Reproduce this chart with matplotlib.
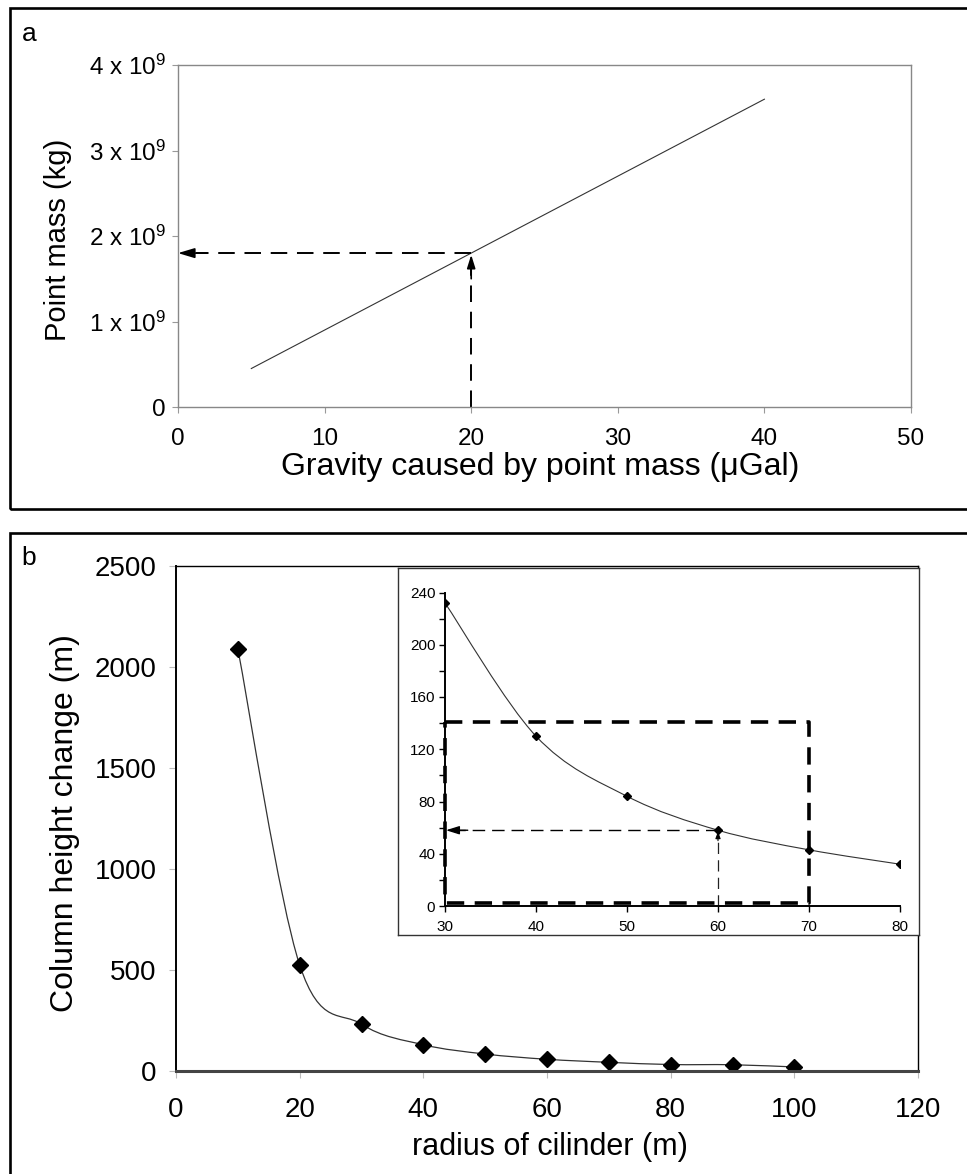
import numpy as np
import matplotlib
matplotlib.use("Agg")
import matplotlib.pyplot as plt
from matplotlib.path import Path
from matplotlib.patches import PathPatch, Rectangle

plt.rcParams['font.family'] = ['Liberation Sans', 'DejaVu Sans']
plt.rcParams['mathtext.fontset'] = 'custom'
plt.rcParams['mathtext.rm'] = 'Liberation Sans'
plt.rcParams['mathtext.it'] = 'Liberation Sans:italic'

# ---------------- data ----------------
# panel a
gravity = [5, 10, 15, 20, 25, 30, 35, 40]
point_mass = [0.45e9, 0.90e9, 1.35e9, 1.80e9, 2.25e9, 2.70e9, 3.15e9, 3.60e9]
a_xticks = [0, 10, 20, 30, 40, 50]
a_yticks = [0, 1e9, 2e9, 3e9, 4e9]
a_yticklabels = ['0', '1 x 10$^{9}$', '2 x 10$^{9}$', '3 x 10$^{9}$', '4 x 10$^{9}$']
a_read_g = 20
a_read_m = 1.8e9

# panel b
radius = [10, 20, 30, 40, 50, 60, 70, 80, 90, 100]
height_change = [2090, 525, 232, 130, 84, 58, 43, 32, 31, 20]
b_xticks = [0, 20, 40, 60, 80, 100, 120]
b_yticks = [0, 500, 1000, 1500, 2000, 2500]

# inset
inset_radius = [30, 40, 50, 60, 70, 80]
inset_height = [232, 130, 84, 58, 43, 32]
inset_xticks = [30, 40, 50, 60, 70, 80]
inset_yticks = [0, 40, 80, 120, 160, 200, 240]
inset_box_x = [30, 70]
inset_box_y = [2.5, 141]
inset_read_r = 60
inset_read_h = 58


def smooth_path(xs, ys):
    pts = np.column_stack([xs, ys]).astype(float)
    n = len(pts)
    verts = [pts[0]]
    codes = [Path.MOVETO]
    for i in range(n - 1):
        p0 = pts[i - 1] if i > 0 else pts[i]
        p1 = pts[i]
        p2 = pts[i + 1]
        p3 = pts[i + 2] if i + 2 < n else pts[i + 1]
        c1 = p1 + (p2 - p0) / 6.0
        c2 = p2 - (p3 - p1) / 6.0
        verts += [c1, c2, p2]
        codes += [Path.CURVE4] * 3
    return Path(verts, codes)


W, H = 967, 1174
fig = plt.figure(figsize=(W / 100, H / 100), dpi=100)

def fx(px):
    return px / W

def fy(py):
    return 1 - py / H

# outer panel boxes
fig.patches.append(Rectangle((fx(10), fy(509)), 1.2, fy(8) - fy(509), transform=fig.transFigure,
                             fill=False, lw=1.9, ec='black', clip_on=False))
fig.patches.append(Rectangle((fx(10), -0.2), 1.2, fy(533) + 0.2, transform=fig.transFigure,
                             fill=False, lw=1.9, ec='black', clip_on=False))
fig.text(fx(29), fy(34), 'a', fontsize=19, ha='center', va='center')
fig.text(fx(29), fy(558), 'b', fontsize=19, ha='center', va='center')

# ---------------- panel a ----------------
axa = fig.add_axes([fx(178), fy(407), fx(911) - fx(178), fy(65) - fy(407)])
axa.plot(gravity, point_mass, color='#333333', lw=0.8)
axa.set_xlim(0, 50)
axa.set_ylim(0, 4e9)
axa.set_xticks(a_xticks)
axa.set_yticks(a_yticks)
axa.set_yticklabels(a_yticklabels)
for s in axa.spines.values():
    s.set_color('#888888')
    s.set_linewidth(1.0)
axa.tick_params(axis='both', colors='#999999', labelcolor='black', labelsize=17.5, length=4, width=0.8)
axa.tick_params(axis='y', pad=5)
axa.tick_params(axis='x', pad=11)
axa.set_xlabel('Gravity caused by point mass (\u03bcGal)', fontsize=23, va='center')
axa.set_ylabel('Point mass (kg)', fontsize=21, va='center')
axa.xaxis.set_label_coords(0.494, -0.175)
axa.yaxis.set_label_coords(-0.164, 0.49)
# reading lines
axa.plot([a_read_g, 1.2], [a_read_m, a_read_m], color='black', lw=1.4, dashes=(8.5, 5))
axa.plot([a_read_g, a_read_g], [0, a_read_m - 0.1e9], color='black', lw=1.4, dashes=(8.5, 5))
axa.annotate('', xy=(0, a_read_m), xytext=(2.0, a_read_m),
             arrowprops=dict(arrowstyle='-|>,head_length=1.0,head_width=0.3', color='black',
                             lw=1.2, shrinkA=0, shrinkB=0), annotation_clip=False)
axa.annotate('', xy=(a_read_g, a_read_m - 0.02e9), xytext=(a_read_g, a_read_m - 0.3e9),
             arrowprops=dict(arrowstyle='-|>,head_length=0.8,head_width=0.25', color='black',
                             lw=1.2, shrinkA=0, shrinkB=0))

# ---------------- panel b ----------------
axb = fig.add_axes([fx(176), fy(1071), fx(918) - fx(176), fy(566) - fy(1071)])
axb.add_patch(PathPatch(smooth_path(radius, height_change), fill=False, ec='#333333', lw=0.9))
axb.plot(radius, height_change, ls='none', marker='D', ms=8, color='black')
axb.set_xlim(0, 120)
axb.set_ylim(0, 2500)
axb.set_xticks(b_xticks)
axb.set_yticks(b_yticks)
axb.spines['left'].set_linewidth(1.4)
axb.spines['left'].set_color('black')
axb.spines['bottom'].set_linewidth(2.2)
axb.spines['bottom'].set_color('#444444')
axb.spines['top'].set_linewidth(1.0)
axb.spines['right'].set_linewidth(1.0)
axb.tick_params(axis='both', colors='#bbbbbb', labelcolor='black', labelsize=20, length=5, width=0.8)
axb.tick_params(axis='y', pad=9)
axb.tick_params(axis='x', pad=14)
axb.set_xlabel('radius of cilinder (m)', fontsize=22, va='center')
axb.set_ylabel('Column height change (m)', fontsize=23, va='center')
axb.xaxis.set_label_coords(0.504, -0.150)
axb.yaxis.set_label_coords(-0.150, 0.49)

# inset frame
frame = fig.add_axes([fx(398), fy(935), fx(919) - fx(398), fy(568) - fy(935)])
frame.set_xticks([])
frame.set_yticks([])
for s in frame.spines.values():
    s.set_color('#333333')
    s.set_linewidth(1.0)

# inset
axi = fig.add_axes([fx(445), fy(906), fx(900) - fx(445), fy(592.5) - fy(906)])
axi.patch.set_alpha(0)
axi.add_patch(PathPatch(smooth_path(inset_radius, inset_height), fill=False, ec='#333333', lw=0.8))
axi.plot(inset_radius, inset_height, ls='none', marker='D', ms=4, color='black')
axi.set_xlim(30, 80)
axi.set_ylim(0, 240)
axi.set_xticks(inset_xticks)
axi.set_yticks(inset_yticks)
axi.set_yticks([20, 60, 100, 140, 180, 220], minor=True)
axi.spines['top'].set_visible(False)
axi.spines['right'].set_visible(False)
axi.spines['left'].set_linewidth(1.4)
axi.spines['bottom'].set_linewidth(1.4)
axi.tick_params(axis='both', which='both', labelsize=11, length=4, width=1.0, direction='out', pad=3)
axi.tick_params(axis='x', pad=6)
# dashed selection box
bx = [inset_box_x[0], inset_box_x[1], inset_box_x[1], inset_box_x[0], inset_box_x[0]]
by = [inset_box_y[1], inset_box_y[1], inset_box_y[0], inset_box_y[0], inset_box_y[1]]
axi.plot(bx, by, color='black', lw=2.6, dashes=(4.8, 2.9), clip_on=False)
# reading lines
axi.plot([inset_read_r, 31.5], [inset_read_h, inset_read_h], color='black', lw=1.0, dashes=(9, 5))
axi.plot([inset_read_r, inset_read_r], [0, inset_read_h - 4], color='#222222', lw=0.9, dashes=(9, 5))
axi.annotate('', xy=(30.1, inset_read_h), xytext=(32.5, inset_read_h),
             arrowprops=dict(arrowstyle='-|>,head_length=0.8,head_width=0.25', color='black',
                             lw=1.0, shrinkA=0, shrinkB=0), annotation_clip=False)
axi.annotate('', xy=(inset_read_r, inset_read_h - 1), xytext=(inset_read_r, inset_read_h - 8),
             arrowprops=dict(arrowstyle='-|>,head_length=0.4,head_width=0.15', color='black',
                             lw=0.8, shrinkA=0, shrinkB=0))

fig.savefig('out.png', dpi=100)
